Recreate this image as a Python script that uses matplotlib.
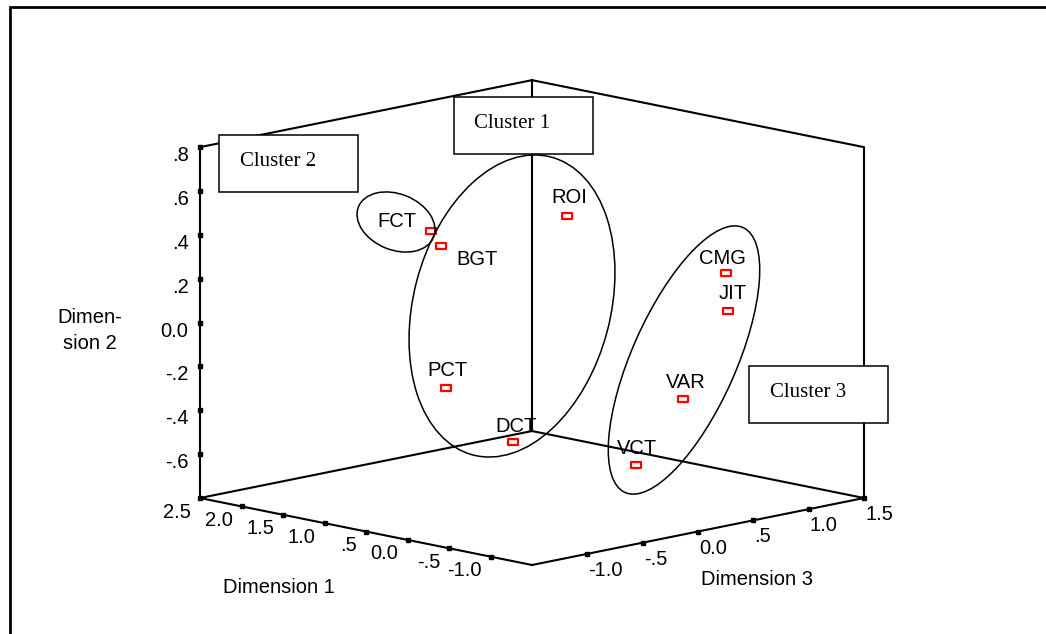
import numpy as np
import matplotlib
matplotlib.use("Agg")
import matplotlib.pyplot as plt
from matplotlib.patches import Ellipse, Rectangle
from matplotlib.path import Path
from mpl_toolkits.mplot3d import proj3d

# MDS stimulus coordinates
labels = ["FCT", "BGT", "ROI", "PCT", "DCT", "CMG", "JIT", "VAR", "VCT"]
dim1 = [2.20, 1.90, 0.60, 0.90, -0.80, -0.90, -1.00, -0.60, -1.30]
dim2 = [0.25, 0.22, 0.44, -0.28, -0.33, 0.26, 0.10, -0.32, -0.47]
dim3 = [0.36, 0.23, 0.39, -0.48, -1.15, 0.70, 0.65, 0.54, -0.41]

dim1_ticks = [2.5, 2.0, 1.5, 1.0, 0.5, 0.0, -0.5, -1.0]
dim1_ticklabels = ["2.5", "2.0", "1.5", "1.0", ".5", "0.0", "-.5", "-1.0"]
dim2_ticks = [0.8, 0.6, 0.4, 0.2, 0.0, -0.2, -0.4, -0.6]
dim2_ticklabels = [".8", ".6", ".4", ".2", "0.0", "-.2", "-.4", "-.6"]
dim3_ticks = [-1.0, -0.5, 0.0, 0.5, 1.0, 1.5]
dim3_ticklabels = ["-1.0", "-.5", "0.0", ".5", "1.0", "1.5"]

clusters = ["Cluster 1", "Cluster 2", "Cluster 3"]

D1 = (-1.5, 2.5)
D2 = (-0.8, 0.8)
D3 = (-1.5, 1.5)

# label offsets from the marker, pixels (right, down)
label_off = {"FCT": (-34, -4), "BGT": (36, 19), "ROI": (2, -13), "PCT": (2, -12),
             "DCT": (3, -10), "CMG": (-3, -9), "JIT": (4, -12), "VAR": (3, -11),
             "VCT": (1, -11)}

plt.rcParams["font.family"] = ["Liberation Sans", "DejaVu Sans"]

W, H = 1046, 634
fig = plt.figure(figsize=(W / 100, H / 100), dpi=100)
ax = fig.add_axes([0, 0, 1, 1], projection="3d", proj_type="ortho")
ax.set_xlim(*D3)
ax.set_ylim(*D1)
ax.set_zlim(*D2)
ax.set_box_aspect((1, 1, 0.763))
ax.view_init(elev=11.64, azim=-135)
ax.grid(False)
for axis in (ax.xaxis, ax.yaxis, ax.zaxis):
    axis.set_pane_color((1, 1, 1, 0))
    axis.line.set_linewidth(0)
    axis.set_ticks([])


def proj2d(xs, ys, zs):
    x2, y2, _ = proj3d.proj_transform(np.asarray(xs, float), np.asarray(ys, float),
                                      np.asarray(zs, float), ax.get_proj())
    return np.column_stack([x2, y2])


# fit the box to the frame: front corner / left & right corners
fig.canvas.draw()
cpx = ax.transData.transform(proj2d([D3[0], D3[0], D3[1]], [D1[0], D1[1], D1[0]], [D2[0]] * 3))
bb = ax.bbox
c0 = np.array([(bb.x0 + bb.x1) / 2, (bb.y0 + bb.y1) / 2])
r = (864 - 200) / (cpx[2, 0] - cpx[1, 0])
front = np.array([532, H - 565])
c1 = front - r * (cpx[0] - c0)
side = bb.width * r
ax.set_position([(c1[0] - side / 2) / W, (c1[1] - side / 2) / H, side / W, side / H])

# box: floor plus the two back walls
x0, x1 = D3
y0, y1 = D1
z0, z1 = D2
edge = dict(color="black", linewidth=1.5)
ax.plot([x0, x1, x1, x0, x0], [y0, y0, y1, y1, y0], [z0] * 5, **edge)
ax.plot([x0, x0, x1, x1, x1], [y1, y1, y1, y0, y0], [z0, z1, z1, z1, z0], **edge)
ax.plot([x1, x1], [y1, y1], [z0, z1], **edge)

# tick marks
n1, n2, n3 = len(dim1_ticks), len(dim2_ticks), len(dim3_ticks)
tk = dict(linestyle="none", marker="s", markersize=2.5, color="black")
ax.plot([x0] * n1, dim1_ticks, [z0] * n1, **tk)
ax.plot(dim3_ticks, [y0] * n3, [z0] * n3, **tk)
ax.plot([x0] * n2, [y1] * n2, dim2_ticks, **tk)

# points
box = Path([(-1, -0.68), (1, -0.68), (1, 0.68), (-1, 0.68), (0, 0)],
           [Path.MOVETO, Path.LINETO, Path.LINETO, Path.LINETO, Path.CLOSEPOLY])
ax.plot(dim3, dim1, dim2, linestyle="none", marker=box, markersize=6.8,
        markerfacecolor="none", markeredgecolor="#ff0000", markeredgewidth=1.6)

fs = 14.5
kw = dict(textcoords="offset pixels", fontsize=fs, va="baseline")
for xy, s in zip(proj2d([x0] * n1, dim1_ticks, [z0] * n1), dim1_ticklabels):
    ax.annotate(s, xy=xy, xytext=(-9, -19.5), ha="right", **kw)
for xy, s in zip(proj2d(dim3_ticks, [y0] * n3, [z0] * n3), dim3_ticklabels):
    ax.annotate(s, xy=xy, xytext=(1, -22), ha="left", **kw)
for xy, s in zip(proj2d([x0] * n2, [y1] * n2, dim2_ticks), dim2_ticklabels):
    ax.annotate(s, xy=xy, xytext=(-11.5, -14), ha="right", **kw)
for xy, s in zip(proj2d(dim3, dim1, dim2), labels):
    dx, dy = label_off[s]
    ax.annotate(s, xy=xy, xytext=(dx, -dy), ha="center", **kw)

# overlay in pixel coordinates for the hand-drawn annotations
ov = fig.add_axes([0, 0, 1, 1])
ov.set_xlim(0, W)
ov.set_ylim(H, 0)
ov.axis("off")
ov.set_zorder(2)

ekw = dict(fill=False, edgecolor="black", linewidth=1.1)
ov.add_patch(Ellipse((512, 306), 308, 197, angle=-75.3, **ekw))
ov.add_patch(Ellipse((396, 222), 81, 56, angle=22, **ekw))
ov.add_patch(Ellipse((684, 360), 290, 104, angle=-66, **ekw))

for (bx, by), name in zip([(454, 97), (219, 135), (749, 366)], clusters):
    ov.add_patch(Rectangle((bx, by), 139, 57, facecolor="white", edgecolor="black", linewidth=1.1))
    ov.text(bx + 20.5, by + 31, name, family="Liberation Serif", fontsize=15,
            ha="left", va="baseline")

ov.text(278.5, 593, "Dimension 1", ha="center", va="baseline", fontsize=fs)
ov.text(757, 585, "Dimension 3", ha="center", va="baseline", fontsize=fs)
ov.text(90, 323, "Dimen-", ha="center", va="baseline", fontsize=fs)
ov.text(90, 349, "sion 2", ha="center", va="baseline", fontsize=fs)

ov.plot([9.5, 9.5, W], [H, 7, 7], color="black", linewidth=2, clip_on=False,
        solid_joinstyle="miter")

fig.savefig("out.png", dpi=100)
